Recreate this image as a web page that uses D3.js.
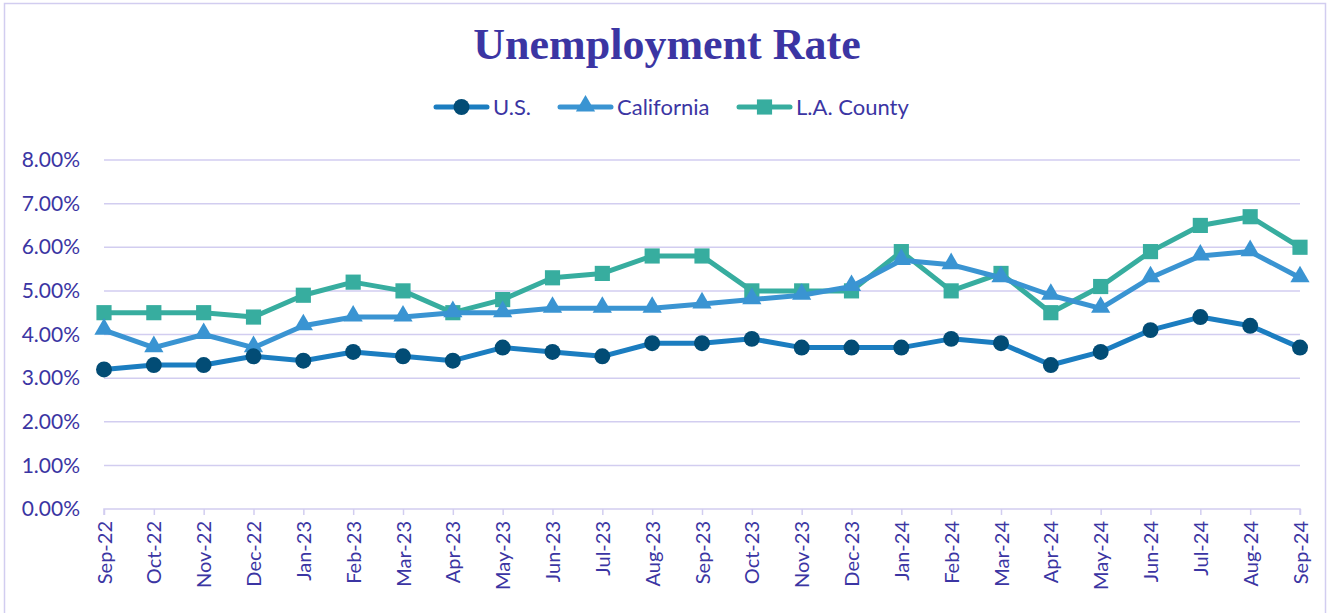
<!DOCTYPE html>
<html>
<head>
<meta charset="utf-8">
<script src="https://cdn.jsdelivr.net/npm/d3@7"></script>
<style>
  body { margin: 0; background: #fff; }
  svg { display: block; }
</style>
</head>
<body>
<svg id="Chart" width="1330" height="613"></svg>
<script>
var months = ["Sep-22","Oct-22","Nov-22","Dec-22","Jan-23","Feb-23","Mar-23","Apr-23","May-23","Jun-23","Jul-23","Aug-23",
              "Sep-23","Oct-23","Nov-23","Dec-23","Jan-24","Feb-24","Mar-24","Apr-24","May-24","Jun-24","Jul-24","Aug-24","Sep-24"];
var usRate = [3.2,3.3,3.3,3.5,3.4,3.6,3.5,3.4,3.7,3.6,3.5,3.8,3.8,3.9,3.7,3.7,3.7,3.9,3.8,3.3,3.6,4.1,4.4,4.2,3.7];
var caRate = [4.1,3.7,4.0,3.7,4.2,4.4,4.4,4.5,4.5,4.6,4.6,4.6,4.7,4.8,4.9,5.1,5.7,5.6,5.3,4.9,4.6,5.3,5.8,5.9,5.3];
var laRate = [4.5,4.5,4.5,4.4,4.9,5.2,5.0,4.5,4.8,5.3,5.4,5.8,5.8,5.0,5.0,5.0,5.9,5.0,5.4,4.5,5.1,5.9,6.5,6.7,6.0];
var yTicks = [0,1,2,3,4,5,6,7,8];

var textColor = "#3b35a3";
var gridColor = "#d2cdf0";
var labelFont = "Lato, 'Open Sans', sans-serif";

var series = [
  { name: "U.S.", values: usRate, line: "#1b7dc0", marker: "#024c75", shape: "circle" },
  { name: "California", values: caRate, line: "#3a94d2", marker: "#3a94d2", shape: "triangle" },
  { name: "L.A. County", values: laRate, line: "#37ad9f", marker: "#37ad9f", shape: "square" }
];

var svg = d3.select("#Chart");
var margin = { left: 104, right: 30, top: 160, bottom: 104 };
var width = 1330, height = 613;

// outer frame
svg.append("rect")
  .attr("x", 4.5).attr("y", 3.5)
  .attr("width", 1321).attr("height", 640)
  .attr("fill", "none")
  .attr("stroke", gridColor)
  .attr("stroke-width", 1.5);

var x = d3.scalePoint()
  .domain(months)
  .range([margin.left, width - margin.right]);

var y = d3.scaleLinear()
  .domain([0, 8])
  .range([height - margin.bottom, margin.top]);

// gridlines
svg.append("g")
  .selectAll("line")
  .data(yTicks.slice(1))
  .enter()
  .append("line")
  .attr("x1", margin.left)
  .attr("x2", width - margin.right)
  .attr("y1", d => y(d))
  .attr("y2", d => y(d))
  .attr("stroke", gridColor)
  .attr("stroke-width", 1.5);

// y axis labels
var yAxis = d3.axisLeft(y)
  .tickValues(yTicks)
  .tickFormat(d => d.toFixed(2) + "%")
  .tickSize(0)
  .tickPadding(24);

svg.append("g")
  .attr("transform", `translate(${margin.left},0)`)
  .call(yAxis)
  .call(g => g.select(".domain").remove())
  .selectAll("text")
  .attr("fill", textColor)
  .style("font-family", labelFont)
  .style("font-size", "21px");

// x axis
var xAxis = d3.axisBottom(x).tickSize(6).tickPadding(6);
svg.append("g")
  .attr("transform", `translate(0,${y(0)})`)
  .call(xAxis)
  .call(g => g.select(".domain").attr("stroke", gridColor).attr("stroke-width", 1.5)
               .attr("d", `M${margin.left},6V0H${width - margin.right}V6`))
  .call(g => g.selectAll(".tick line").attr("stroke", gridColor).attr("stroke-width", 1.5))
  .selectAll("text")
  .attr("fill", textColor)
  .style("font-family", labelFont)
  .style("font-size", "20px")
  .style("text-anchor", "end")
  .attr("dx", "-12px")
  .attr("dy", "0.35em")
  .attr("y", 0)
  .attr("x", 0)
  .attr("transform", "rotate(-90)");

// symbols
function symbolFor(shape) {
  if (shape === "circle") return d3.symbol().type(d3.symbolCircle).size(200)();
  if (shape === "triangle") return d3.symbol().type(d3.symbolTriangle).size(160)();
  return d3.symbol().type(d3.symbolSquare).size(230)();
}

var line = d3.line()
  .x((d, i) => x(months[i]))
  .y(d => y(d));

var drawOrder = [series[2], series[1], series[0]];
drawOrder.forEach(s => {
  var g = svg.append("g");
  g.append("path")
    .datum(s.values)
    .attr("fill", "none")
    .attr("stroke", s.line)
    .attr("stroke-width", 5)
    .attr("stroke-linejoin", "round")
    .attr("d", line);
  g.selectAll("path.mark")
    .data(s.values)
    .enter()
    .append("path")
    .attr("class", "mark")
    .attr("d", symbolFor(s.shape))
    .attr("transform", (d, i) => `translate(${x(months[i])},${y(d) + (s.shape === "triangle" ? -1 : 0)})`)
    .attr("fill", s.marker);
});

// title
svg.append("text")
  .attr("x", 667)
  .attr("y", 59)
  .attr("text-anchor", "middle")
  .attr("fill", textColor)
  .style("font-family", "'Liberation Serif', 'DejaVu Serif', serif")
  .style("font-weight", "bold")
  .style("font-size", "44px")
  .text("Unemployment Rate");

// legend
var legendX = [434, 558, 737];
var legend = svg.append("g");
series.forEach((s, i) => {
  var lg = legend.append("g").attr("transform", `translate(${legendX[i]},107)`);
  lg.append("line")
    .attr("x1", 2).attr("x2", 53)
    .attr("y1", 0).attr("y2", 0)
    .attr("stroke", s.line)
    .attr("stroke-width", 5)
    .attr("stroke-linecap", "round");
  lg.append("path")
    .attr("d", symbolFor(s.shape))
    .attr("transform", `translate(27.5,${s.shape === "triangle" ? -1 : 0})`)
    .attr("fill", s.marker);
  lg.append("text")
    .attr("x", 59)
    .attr("y", 0)
    .attr("dy", "0.35em")
    .attr("fill", textColor)
    .style("font-family", labelFont)
    .style("font-size", "22px")
    .text(s.name);
});
</script>
</body>
</html>
